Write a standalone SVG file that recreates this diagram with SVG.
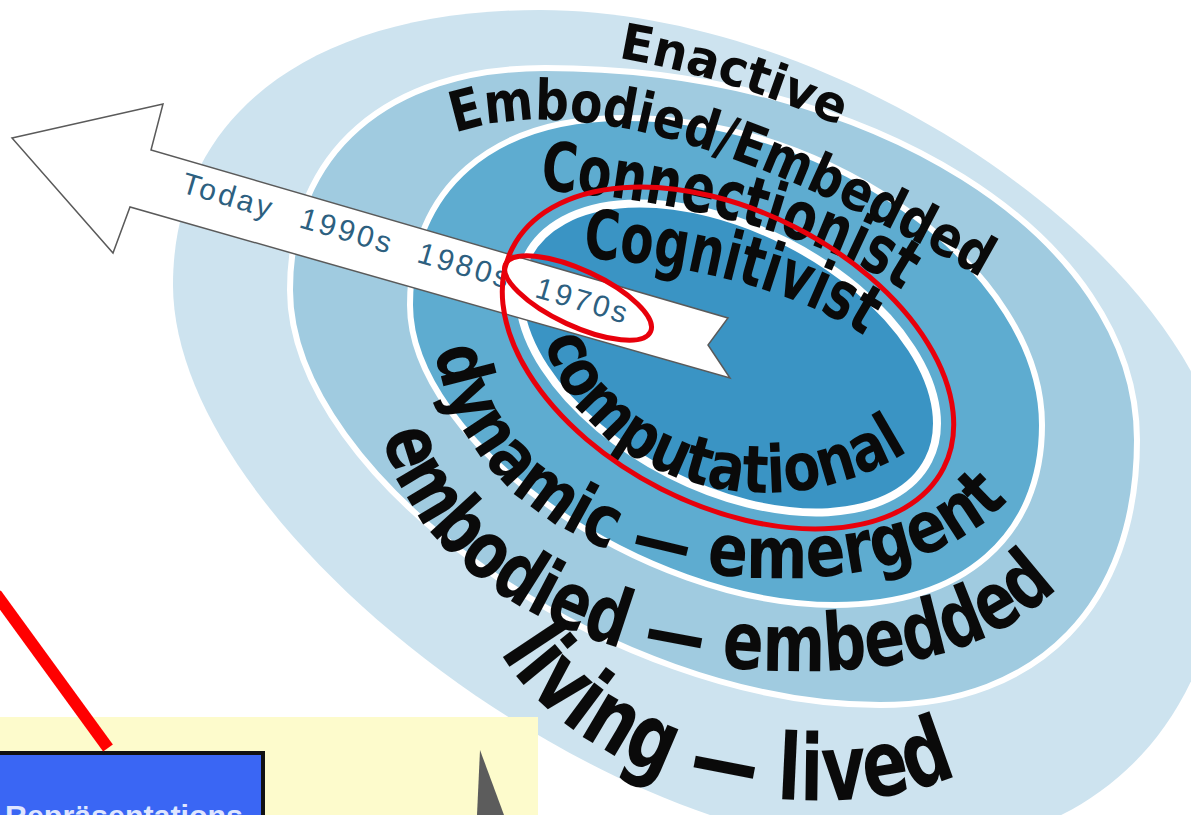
<svg xmlns="http://www.w3.org/2000/svg" width="1191" height="815" viewBox="0 0 1191 815">
<style>
.sep{stroke:#ffffff;stroke-width:6}
.up{font-family:"DejaVu Sans","Liberation Sans",sans-serif;font-weight:bold;fill:#0a0a0a}
.cond{font-family:"DejaVu Sans Condensed","Liberation Sans Narrow","DejaVu Sans",sans-serif;font-stretch:condensed;font-weight:bold;fill:#0a0a0a}
.date{font-family:"Liberation Sans",Arial,sans-serif;font-size:30px;letter-spacing:3px;fill:#2d6080}
.red{fill:none;stroke:#e8000b;stroke-width:5}
</style>
<defs>
<path id="p-enactive" d="M618,58 C690,70 770,95 845,128"/>
<path id="p-embodied" d="M455,133 C560,98 720,128 985,280"/>
<path id="p-connect" d="M540,190 C640,197 800,222 905,292"/>
<path id="p-cognit" d="M583,258 C660,262 780,280 868,338"/>
<path id="p-comput" d="M545,340 C575,470 760,545 910,450"/>
<path id="p-dynamic" d="M435,350 C455,470 560,560 720,575 C850,588 960,560 1012,495"/>
<path id="p-embodied2" d="M383,435 C410,560 550,660 760,670 C900,677 1000,650 1065,580"/>
<path id="p-living" d="M500,652 C542,724 642,788 762,798 C852,805 912,797 962,772"/>
</defs>
<rect width="1191" height="815" fill="#ffffff"/>
<g id="rings">
<path d="M173,285 C173,114.5 312.5,10 540,10 C853,10 1228,277 1228,500 C1228,717 1103,850 900,850 C594.7,850 173,522.3 173,285 Z" fill="#cde3ef"/>
<path class="sep" d="M290,290 C290,152.4 387,68 545,68 C870.6,68 1137,235.4 1137,440 C1137,604.3 1039.3,705 880,705 C611.5,705 290,478.8 290,290 Z" fill="#a0cbe0"/>
<path class="sep" d="M410,305 C410,189 491.7,118 625,118 C833.5,118 1042,271.5 1042,425 C1042,536.6 963.3,605 835,605 C641.6,605 410,441.5 410,305 Z" fill="#5eacd0"/>
<ellipse cx="728" cy="358" rx="225" ry="130" transform="rotate(27 728 358)" fill="#3a94c4" stroke="#ffffff" stroke-width="8"/>
</g>
<g id="ring-labels">
<text class="up" font-size="50"><textPath href="#p-enactive" textLength="232" lengthAdjust="spacingAndGlyphs">Enactive</textPath></text>
<text class="up" font-size="56"><textPath href="#p-embodied" textLength="560" lengthAdjust="spacingAndGlyphs">Embodied/Embedded</textPath></text>
<text class="cond" font-size="68"><textPath href="#p-connect" textLength="380" lengthAdjust="spacingAndGlyphs">Connectionist</textPath></text>
<text class="cond" font-size="68"><textPath href="#p-cognit" textLength="295" lengthAdjust="spacingAndGlyphs">Cognitivist</textPath></text>
<text class="cond" font-size="66"><textPath href="#p-comput" textLength="440" lengthAdjust="spacingAndGlyphs">computational</textPath></text>
<text class="cond" font-size="72"><textPath href="#p-dynamic" textLength="700" lengthAdjust="spacingAndGlyphs">dynamic — emergent</textPath></text>
<text class="cond" font-size="80"><textPath href="#p-embodied2" textLength="795" lengthAdjust="spacingAndGlyphs">embodied — embedded</textPath></text>
<text class="cond" font-size="92"><textPath href="#p-living" textLength="510" lengthAdjust="spacingAndGlyphs">living — lived</textPath></text>
</g>
<g id="timeline-arrow">
<polygon points="12,138 163,104 151,150 728,318 708,345 730,378 130,207 113,253" fill="#ffffff" stroke="#5a5a5a" stroke-width="1.5"/>
<g transform="translate(180,192) rotate(16.5)">
<text class="date" x="0" y="0">Today</text>
<text class="date" x="123" y="0">1990s</text>
<text class="date" x="246" y="0">1980s</text>
<text class="date" x="369" y="0">1970s</text>
</g>
</g>
<g id="slide-fragment">
<rect x="0" y="717" width="538" height="98" fill="#fdfbcc"/>
<rect x="-5" y="753" width="268" height="80" fill="#3a66f4" stroke="#111111" stroke-width="4"/>
<text x="5" y="826" font-family="Liberation Sans,Arial,sans-serif" font-weight="bold" font-size="30" fill="#dfe6ff" textLength="238" lengthAdjust="spacingAndGlyphs">Repräsentations</text>
<polygon points="477,815 480,750 504,815" fill="#5c5c5c"/>
</g>
<g id="highlights">
<ellipse class="red" cx="728" cy="358" rx="242" ry="147" transform="rotate(27 728 358)"/>
<ellipse class="red" cx="578" cy="298" rx="80" ry="28" transform="rotate(25 578 298)"/>
<line x1="-4" y1="594" x2="108" y2="748" stroke="#ff0000" stroke-width="12"/>
</g>
</svg>
